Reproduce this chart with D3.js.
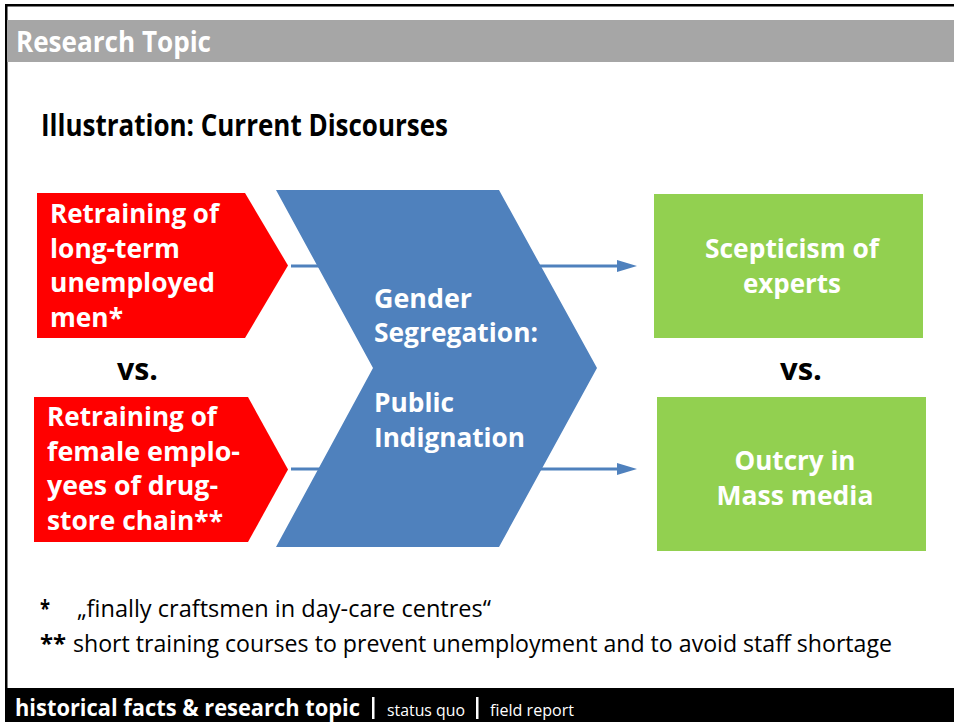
<!DOCTYPE html>
<html>
<head>
<meta charset="utf-8">
<script src="https://cdn.jsdelivr.net/npm/d3@7"></script>
<style>
  html, body { margin: 0; padding: 0; background: #ffffff; }
  svg { display: block; }
  text { font-family: "Open Sans", "DejaVu Sans", sans-serif; }
</style>
</head>
<body>
<div id="chart"></div>
<script>
// ---------- content (data) ----------
const headerTitle = "Research Topic";
const slideTitle = "Illustration: Current Discourses";
const leftItems = [
  ["Retraining of", "long-term", "unemployed", "men*"],
  ["Retraining of", "female emplo-", "yees of drug-", "store chain**"]
];
const centerLines = ["Gender", "Segregation:", "Public", "Indignation"];
const rightItems = [
  ["Scepticism of", "experts"],
  ["Outcry in", "Mass media"]
];
const versusLabel = "vs.";
const footnoteMarks = ["*", "**"];
const footnoteTexts = [
  "\u201Efinally craftsmen in day-care centres\u201C",
  "short training courses to prevent unemployment and to avoid staff shortage"
];
const navItems = ["historical facts & research topic", "status quo", "field report"];

// ---------- layout ----------
const W = 954, H = 722;
const colors = { red: "#ff0000", blue: "#4f81bd", green: "#92d050", gray: "#a6a6a6", black: "#000000" };

const svg = d3.select("#chart").append("svg").attr("width", W).attr("height", H);

function fit(sel, w) {
  if (w) sel.attr("textLength", w).attr("lengthAdjust", "spacingAndGlyphs");
  return sel;
}

// slide frame
svg.append("rect").attr("x", 5).attr("y", 4).attr("width", W - 5).attr("height", 2.5).attr("fill", colors.black);
svg.append("rect").attr("x", 5).attr("y", 4).attr("width", 2.5).attr("height", 686).attr("fill", colors.black);

// header band
svg.append("rect").attr("x", 7).attr("y", 20).attr("width", W - 7).attr("height", 42).attr("fill", colors.gray);
fit(svg.append("text").attr("x", 16).attr("y", 52).attr("fill", "#fff")
  .attr("font-size", 28).attr("font-weight", 700).text(headerTitle), 195);

// slide title
fit(svg.append("text").attr("x", 41).attr("y", 136).attr("fill", "#000")
  .attr("font-size", 29.5).attr("font-weight", 700).text(slideTitle), 407);

// ---------- row positions ----------
const rowY = d3.scaleOrdinal().domain([0, 1]).range([266, 469]);

// arrows (behind chevron)
const arrowG = svg.append("g");
[0, 1].forEach(i => {
  const y = rowY(i);
  arrowG.append("line").attr("x1", 291).attr("x2", 620).attr("y1", y).attr("y2", y)
    .attr("stroke", colors.blue).attr("stroke-width", 3.2);
  arrowG.append("path")
    .attr("d", d3.line()([[617, y - 6], [637, y], [617, y + 6]]) + "Z")
    .attr("fill", colors.blue);
});

// red pentagon boxes
const redBoxes = [
  { x0: 37, x1: 245, tip: 288, y0: 193, y1: 338, tx: 50, base: 223, widths: [169, 130, 165, 73] },
  { x0: 34, x1: 248, tip: 288, y0: 397, y1: 542, tx: 47, base: 426, widths: [170, 193, 171, 176] }
];
const redG = svg.selectAll("g.red").data(leftItems).join("g").attr("class", "red");
redG.append("path")
  .attr("d", (d, i) => {
    const b = redBoxes[i], ym = (b.y0 + b.y1) / 2;
    return d3.line()([[b.x0, b.y0], [b.x1, b.y0], [b.tip, ym], [b.x1, b.y1], [b.x0, b.y1]]) + "Z";
  })
  .attr("fill", colors.red);
redG.each(function (lines, i) {
  const b = redBoxes[i];
  d3.select(this).selectAll("text").data(lines).join("text")
    .attr("x", b.tx).attr("y", (d, j) => b.base + j * 34.5)
    .attr("fill", "#fff").attr("font-size", 27).attr("font-weight", 700)
    .text(d => d)
    .each(function (d, j) { fit(d3.select(this), b.widths[j]); });
});

// blue chevron
svg.append("path")
  .attr("d", d3.line()([[276, 190], [499, 190], [597, 368], [499, 547], [276, 547], [373, 368]]) + "Z")
  .attr("fill", colors.blue);
const centerBase = [308, 342, 412, 447];
const centerW = [98, 164, 80, 151];
svg.selectAll("text.center").data(centerLines).join("text").attr("class", "center")
  .attr("x", 374).attr("y", (d, i) => centerBase[i])
  .attr("fill", "#fff").attr("font-size", 27).attr("font-weight", 700)
  .text(d => d)
  .each(function (d, i) { fit(d3.select(this), centerW[i]); });

// green boxes
const greenBoxes = [
  { x: 654, y: 194, w: 269, h: 144, cx: 792, base: 258, widths: [174, 98] },
  { x: 657, y: 397, w: 269, h: 154, cx: 795, base: 470, widths: [121, 157] }
];
const greenG = svg.selectAll("g.green").data(rightItems).join("g").attr("class", "green");
greenG.append("rect")
  .attr("x", (d, i) => greenBoxes[i].x).attr("y", (d, i) => greenBoxes[i].y)
  .attr("width", (d, i) => greenBoxes[i].w).attr("height", (d, i) => greenBoxes[i].h)
  .attr("fill", colors.green);
greenG.each(function (lines, i) {
  const b = greenBoxes[i];
  d3.select(this).selectAll("text").data(lines).join("text")
    .attr("x", b.cx).attr("y", (d, j) => b.base + j * 34.5)
    .attr("text-anchor", "middle")
    .attr("fill", "#fff").attr("font-size", 27).attr("font-weight", 700)
    .text(d => d)
    .each(function (d, j) { fit(d3.select(this), b.widths[j]); });
});

// vs. labels
[{ x: 117, w: 41 }, { x: 780, w: 42 }].forEach(p => {
  fit(svg.append("text").attr("x", p.x).attr("y", 380).attr("fill", "#000")
    .attr("font-size", 30).attr("font-weight", 700).text(versusLabel), p.w);
});

// footnotes
const fnBase = [617, 652];
const fnTextX = [77, 73];
const fnTextW = [414, 819];
const fnMarkW = [10, 26];
svg.selectAll("text.fnmark").data(footnoteMarks).join("text").attr("class", "fnmark")
  .attr("x", 40).attr("y", (d, i) => fnBase[i])
  .attr("fill", "#000").attr("font-size", 23).attr("font-weight", 700)
  .text(d => d)
  .each(function (d, i) { fit(d3.select(this), fnMarkW[i]); });
svg.selectAll("text.fntext").data(footnoteTexts).join("text").attr("class", "fntext")
  .attr("x", (d, i) => fnTextX[i]).attr("y", (d, i) => fnBase[i])
  .attr("fill", "#000").attr("font-size", 23).attr("font-weight", 400)
  .text(d => d)
  .each(function (d, i) { fit(d3.select(this), fnTextW[i]); });

// footer bar
svg.append("rect").attr("x", 5).attr("y", 688).attr("width", W - 5).attr("height", H - 688).attr("fill", colors.black);
const navX = [15, 387, 490], navW = [345, 78, 84], navSize = [23, 15.5, 15.5], navWeight = [700, 400, 400];
svg.selectAll("text.nav").data(navItems).join("text").attr("class", "nav")
  .attr("x", (d, i) => navX[i]).attr("y", 716)
  .attr("fill", "#fff").attr("font-size", (d, i) => navSize[i]).attr("font-weight", (d, i) => navWeight[i])
  .text(d => d)
  .each(function (d, i) { fit(d3.select(this), navW[i]); });
// separators drawn as thin bars
[372, 476].forEach(x => {
  svg.append("rect").attr("x", x).attr("y", 697).attr("width", 2.5).attr("height", 22).attr("fill", "#fff");
});
</script>
</body>
</html>
